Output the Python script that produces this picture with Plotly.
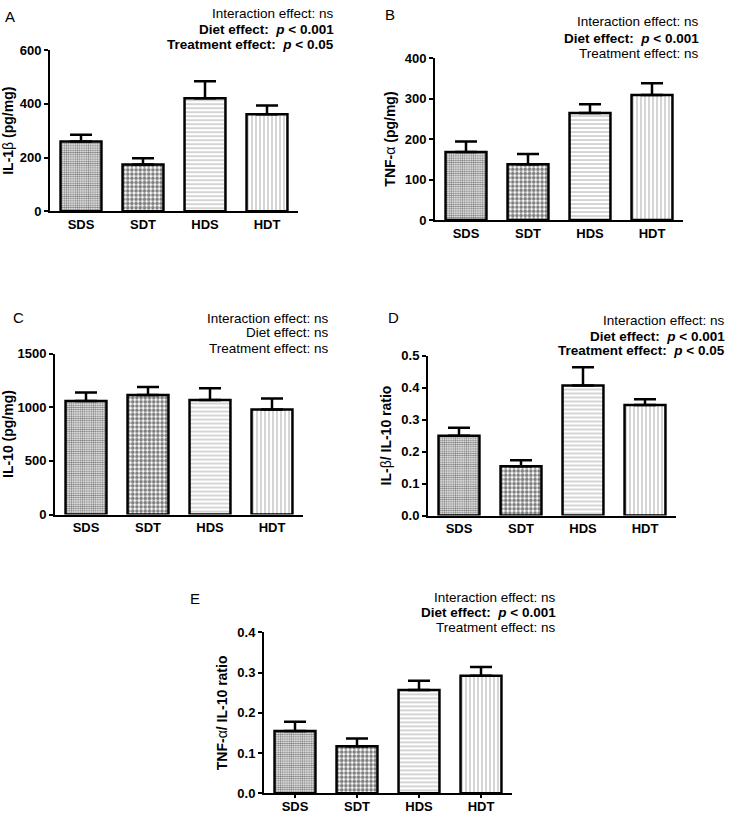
import plotly.graph_objects as go

groups = ["SDS", "SDT", "HDS", "HDT"]

il1b = [260, 174, 421, 361]
il1b_err = [25, 23, 63, 33]
tnfa = [168, 138, 264, 309]
tnfa_err = [26, 25, 22, 29]
il10 = [1058, 1113, 1067, 979]
il10_err = [79, 76, 110, 103]
il1b_il10 = [0.249, 0.154, 0.406, 0.345]
il1b_il10_err = [0.025, 0.019, 0.057, 0.018]
tnfa_il10 = [0.155, 0.117, 0.257, 0.292]
tnfa_il10_err = [0.023, 0.019, 0.023, 0.022]

W, H = 729, 820
FONT = "Liberation Sans, Arial, sans-serif"

panels = [
    dict(letter="A", y=il1b, e=il1b_err, title="IL-1<span style='font-weight:normal'>β</span> (pg/mg)",
         rng=[0, 600], dt=200, fmt="d", box=(50, 298, 44, 208),
         notes=["Interaction effect: ns", "<b>Diet effect:  <i>p</i> < 0.001</b>", "<b>Treatment effect:  <i>p</i> < 0.05</b>"],
         nx=336, ny=[7, 23, 38], lx=10, ly=10, ticks=""),
    dict(letter="B", y=tnfa, e=tnfa_err, title="TNF-<span style='font-weight:normal'>α</span> (pg/mg)",
         rng=[0, 400], dt=100, fmt="d", box=(435, 683, 52, 217),
         notes=["Interaction effect: ns", "<b>Diet effect:  <i>p</i> < 0.001</b>", "Treatment effect: ns"],
         nx=701, ny=[15, 32, 47], lx=390, ly=8, ticks=""),
    dict(letter="C", y=il10, e=il10_err, title="IL-10 (pg/mg)",
         rng=[0, 1500], dt=500, fmt="d", box=(55, 303, 353, 517),
         notes=["Interaction effect: ns", "Diet effect: ns", "Treatment effect: ns"],
         nx=331, ny=[317, 332, 348], lx=18, ly=316, ticks=""),
    dict(letter="D", y=il1b_il10, e=il1b_il10_err, title="IL-<span style='font-weight:normal'>β</span>/ IL-10 ratio",
         rng=[0, 0.5], dt=0.1, fmt=".1f", box=(428, 676, 355, 518),
         notes=["Interaction effect: ns", "<b>Diet effect:  <i>p</i> < 0.001</b>", "<b>Treatment effect:  <i>p</i> < 0.05</b>"],
         nx=727, ny=[319, 336, 350], lx=393, ly=316, ticks=""),
    dict(letter="E", y=tnfa_il10, e=tnfa_il10_err, title="TNF-<span style='font-weight:normal'>α</span>/ IL-10 ratio",
         rng=[0, 0.4], dt=0.1, fmt=".1f", box=(264, 512, 637, 801),
         notes=["Interaction effect: ns", "<b>Diet effect:  <i>p</i> < 0.001</b>", "Treatment effect: ns"],
         nx=558, ny=[602, 617, 632], lx=195, ly=603, ticks="outside"),
]

shapes_pat = [
    dict(shape=".", size=2.2, solidity=0.55, fgcolor="black", bgcolor="white", fillmode="overlay"),
    dict(shape=".", size=4.2, solidity=0.6, fgcolor="black", bgcolor="white", fillmode="overlay"),
    dict(shape="-", size=4, solidity=0.25, fgcolor="#555555", bgcolor="white", fillmode="overlay"),
    dict(shape="|", size=4, solidity=0.25, fgcolor="#555555", bgcolor="white", fillmode="overlay"),
]

fig = go.Figure()
layout = dict(width=W, height=H, margin=dict(l=0, r=0, t=0, b=0),
              paper_bgcolor="white", plot_bgcolor="white", showlegend=False,
              font=dict(family=FONT, color="black"), annotations=[])

for i, p in enumerate(panels):
    n = "" if i == 0 else str(i + 1)
    x0, x1, y0, y1 = p["box"]
    for j, g in enumerate(groups):
        fig.add_trace(go.Bar(
            x=[g], y=[p["y"][j]], xaxis="x" + n, yaxis="y" + n, width=0.66,
            marker=dict(color="white", line=dict(color="black", width=2.5), pattern=shapes_pat[j]),
            error_y=dict(type="data", array=[p["e"][j]], arrayminus=[0], symmetric=False,
                         color="black", thickness=2.5, width=11),
        ))
    xa = dict(domain=[x0 / W, x1 / W], anchor="y" + n, type="category",
              categoryorder="array", categoryarray=groups, range=[-0.5, 3.5],
              showline=True, linecolor="black", linewidth=2, ticks=p["ticks"],
              ticklen=3, tickwidth=1.5, tickcolor="black",
              tickfont=dict(size=13, family=FONT, weight="bold"),
              showgrid=False, zeroline=False, fixedrange=True)
    if p["ticks"]:
        xa["ticklabelstandoff"] = -3
    layout["xaxis" + n] = xa
    layout["yaxis" + n] = dict(domain=[1 - y1 / H, 1 - y0 / H], anchor="x" + n, range=p["rng"],
                               dtick=p["dt"], tick0=0, tickformat=p["fmt"],
                               showline=True, linecolor="black", linewidth=2, ticks="outside",
                               ticklen=4, tickwidth=2, tickcolor="black",
                               tickfont=dict(size=13, family=FONT, weight="bold"),
                               title=dict(text=p["title"], font=dict(size=14, family=FONT, weight="bold"), standoff=6),
                               showgrid=False, zeroline=False, fixedrange=True)
    layout["annotations"].append(dict(text=p["letter"], x=p["lx"] / W, y=1 - p["ly"] / H,
                                      xref="paper", yref="paper", xanchor="center", yanchor="middle",
                                      showarrow=False, font=dict(size=15, family=FONT)))
    for t, yy in zip(p["notes"], p["ny"]):
        layout["annotations"].append(dict(text=t, x=p["nx"] / W, y=1 - yy / H, xref="paper", yref="paper",
                                          xanchor="right", yanchor="middle", showarrow=False,
                                          font=dict(size=13.5, family=FONT)))

fig.update_layout(**layout)
fig.write_html("out.html", config={"displayModeBar": False, "staticPlot": True},
               post_script="document.body.style.margin='0';")
